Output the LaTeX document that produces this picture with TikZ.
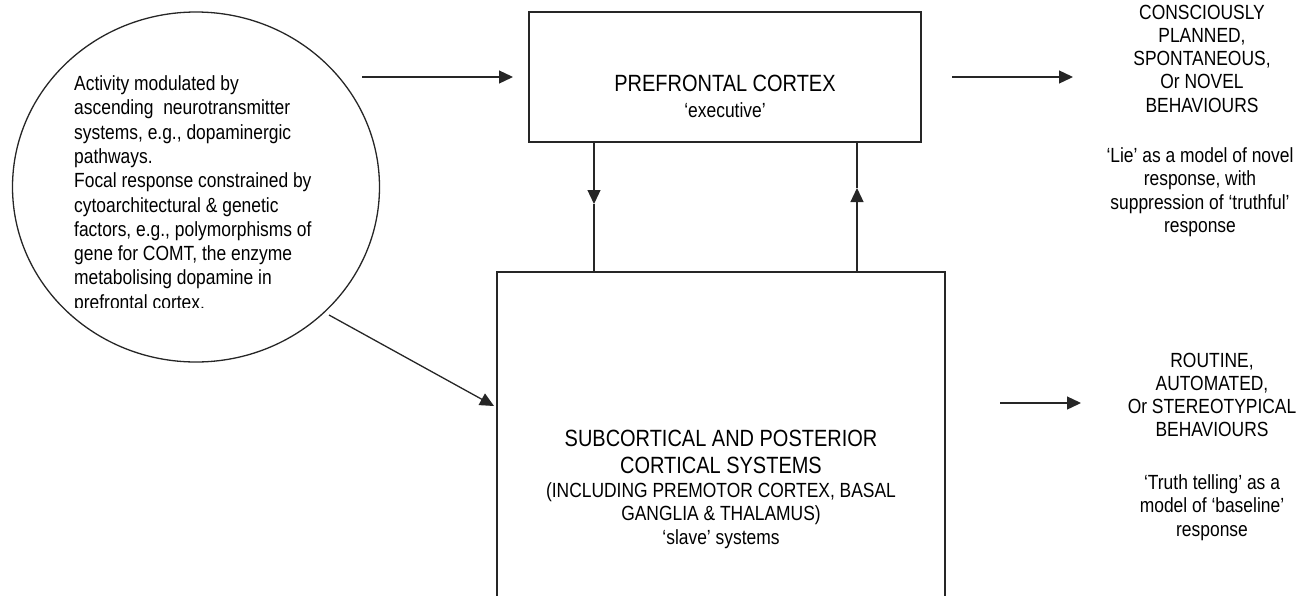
\documentclass[tikz,border=0pt]{standalone}
\usepackage{fontspec}
\setmainfont{Liberation Sans}[FakeStretch=0.85]
\usetikzlibrary{shapes.geometric,arrows.meta,calc}
\newcommand\bigtxt{\fontsize{23.5}{27}\selectfont}
\newcommand\smalltxt{\fontsize{20.5}{23.3}\selectfont}
\newcommand\circtxt{\fontsize{20.5}{24.3}\selectfont}
\begin{document}
\begin{tikzpicture}[x=1pt,y=-1pt,
  boxline/.style={draw=black!85,line width=1.3pt},
  arr/.style={line width=1.3pt,draw=black!85,-{Triangle[length=14pt,width=13pt]}},
  plain/.style={line width=1.3pt,draw=black!85},
  txt/.style={inner sep=0pt,align=center,text=black},
]
\useasboundingbox (0,0) rectangle (1304,595);
% shapes
\node[boxline,ellipse,minimum width=367pt,minimum height=350pt,inner sep=0pt] (circ) at (196,187) {};
\node[boxline,rectangle,minimum width=392pt,minimum height=130pt,inner sep=0pt] (pfc) at (725,77) {};
\node[boxline,rectangle,minimum width=448pt,minimum height=348pt,inner sep=0pt] (sub) at (721,446) {};
% texts
\begin{scope}
\clip (0,0) rectangle (400,307);
\node[txt,align=left,anchor=north west,font=\circtxt] (circtext) at (74,75.5)
 {Activity modulated by\\ascending\ \ neurotransmitter\\systems, e.g., dopaminergic\\pathways.\\Focal response constrained by\\cytoarchitectural \& genetic\\factors, e.g., polymorphisms of\\gene for COMT, the enzyme\\metabolising dopamine in\\prefrontal cortex.};
\end{scope}
\node[txt,anchor=north,font=\bigtxt] (pfct) at (725,74.5) {PREFRONTAL CORTEX};
\node[txt,anchor=north,font=\smalltxt] (pfce) at (725,102.5) {‘executive’};
\node[txt,anchor=north,font=\bigtxt] (subt) at (721,429.5) {SUBCORTICAL AND POSTERIOR\\CORTICAL SYSTEMS};
\node[txt,anchor=north,font=\smalltxt] (subs) at (721,482.5) {(INCLUDING PREMOTOR CORTEX, BASAL\\GANGLIA \& THALAMUS)\\‘slave’ systems};
\node[txt,anchor=north,font=\smalltxt] (beh1) at (1202,4.5) {CONSCIOUSLY\\PLANNED,\\SPONTANEOUS,\\Or NOVEL\\BEHAVIOURS};
\node[txt,anchor=north,font=\smalltxt] (lie) at (1200,147.5) {‘Lie’ as a model of novel\\response, with\\suppression of ‘truthful’\\response};
\node[txt,anchor=north,font=\smalltxt] (beh2) at (1212,352.5) {ROUTINE,\\AUTOMATED,\\Or STEREOTYPICAL\\BEHAVIOURS};
\node[txt,anchor=north,font=\smalltxt] (truth) at (1212,474.5) {‘Truth telling’ as a\\model of ‘baseline’\\response};
% connector end points
\coordinate (a1s) at (362,77);
\coordinate (a1e) at (513,77);
\coordinate (a2s) at (952,77);
\coordinate (a2e) at (1073,77);
\coordinate (a3s) at (1000,403);
\coordinate (a3e) at (1081,403);
\coordinate (a4s) at (329,315);
\coordinate (a4e) at (494,406);
\coordinate (d1) at (594,204);
\coordinate (u1) at (857,188);
% connectors
\draw[arr] (a1s) -- (a1e);
\draw[arr] (a2s) -- (a2e);
\draw[arr] (a3s) -- (a3e);
\draw[arr] (a4s) -- (a4e);
\draw[arr] (pfc.south -| d1) -- (d1);
\draw[plain] (d1) -- (sub.north -| d1);
\draw[arr] (sub.north -| u1) -- (u1);
\draw[plain] (u1) -- (pfc.south -| u1);
\end{tikzpicture}
\end{document}
